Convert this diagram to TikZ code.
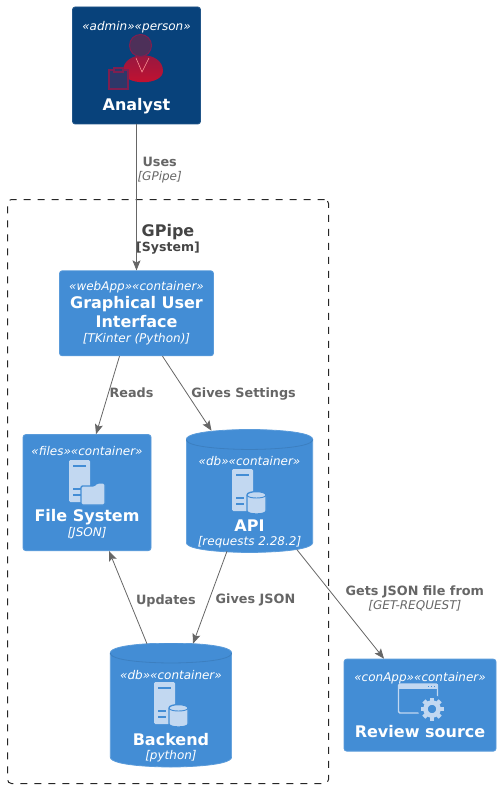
\documentclass[tikz,border=0pt]{standalone}
\usepackage{fontspec}
\setmainfont{DejaVu Sans}
\usetikzlibrary{calc, arrows.meta, positioning}

\definecolor{adminblue}{HTML}{08427B}
\definecolor{contblue}{HTML}{438DD5}
\definecolor{contline}{HTML}{3C7FC0}
\definecolor{iconblue}{HTML}{C2D8F1}
\definecolor{linegrey}{HTML}{666666}
\definecolor{titlegrey}{HTML}{444444}
\definecolor{bodytop}{HTML}{8E1A44}
\definecolor{bodyred}{HTML}{C8102E}
\definecolor{iconline}{HTML}{7E1F50}

\newcommand{\stereo}[1]{{\fontsize{9}{11}\selectfont\itshape #1}}
\newcommand{\boxtitle}[1]{{\fontsize{12}{13.5}\selectfont\bfseries #1}}
\newcommand{\tech}[1]{{\fontsize{9}{11}\selectfont\itshape #1}}
\newcommand{\ppbb}{path picture bounding box}

\tikzset{
    servericon/.pic={
        \fill[iconblue, rounded corners=1pt] (0,0) rectangle (21,42);
        \draw[contblue, line width=0.9pt] (4,6) -- (17,6);
        \draw[contblue, line width=0.9pt] (4,29) -- (12,29);
        \draw[contblue, line width=0.9pt] (4,35) -- (12,35);
    },
    dbicon/.pic={
        \draw[contblue, line width=1pt, fill=iconblue] (0,3) -- (0,19)
            .. controls (0,23) and (19,23) .. (19,19) -- (19,3)
            .. controls (19,-1.5) and (0,-1.5) .. (0,3) -- cycle;
        \draw[contblue, line width=0.7pt] (0,3) .. controls (0,7) and (19,7) .. (19,3);
    },
    foldericon/.pic={
        \draw[contblue, line width=1pt, fill=iconblue, rounded corners=1pt] (0,3) -- (13,3)
            -- (16,0) -- (24,0) -- (24,22) -- (0,22) -- cycle;
    },
    windowicon/.pic={
        \draw[iconblue, line width=1.1pt, rounded corners=1pt] (0,0) rectangle (39,29);
        \fill[iconblue] (0,0) rectangle (39,5);
        \foreach \dx in {29,32,35} {
            \fill[contblue] (\dx,1.5) rectangle ++(1.6,1.6);
        }
    },
    gearicon/.pic={
        \fill[contblue] (0,0) circle (14);
        \foreach \ang in {0,45,...,315} {
            \draw[iconblue, line width=3.2pt] (\ang:6) -- (\ang:11.5);
        }
        \draw[iconblue, line width=3.4pt] (0,0) circle (6.5);
    },
}

\begin{document}
\begin{tikzpicture}[
    x=0.75pt, y=-0.75pt,
    node distance=60pt,
    box/.style={
        rectangle, rounded corners=2pt, draw=contblue!88!white, fill=contblue,
        text=white, align=center, inner sep=0pt, line width=0.6pt,
        font=\fontsize{12}{13.5}\selectfont
    },
    adminbox/.style={
        box, draw=adminblue!90!white, fill=adminblue,
        minimum width=96pt, minimum height=87.75pt
    },
    dbbox/.style={
        rectangle, text=white, align=center, inner sep=0pt,
        font=\fontsize{12}{13.5}\selectfont,
        path picture={
            \draw[contblue!88!white, fill=contblue, line width=0.6pt]
                ($(\ppbb.north west)+(0.3,10)$) .. controls ($(\ppbb.north west)+(0.3,0)$) and (\ppbb.north) .. (\ppbb.north)
                .. controls (\ppbb.north) and ($(\ppbb.north east)+(-0.3,0)$) .. ($(\ppbb.north east)+(-0.3,10)$)
                -- ($(\ppbb.south east)+(-0.3,-10)$)
                .. controls ($(\ppbb.south east)+(-0.3,0)$) and (\ppbb.south) .. (\ppbb.south)
                .. controls (\ppbb.south) and ($(\ppbb.south west)+(0.3,0)$) .. ($(\ppbb.south west)+(0.3,-10)$)
                -- cycle;
            \draw[contline, line width=0.6pt]
                ($(\ppbb.north west)+(0.3,10)$) .. controls ($(\ppbb.north west)+(0.3,20)$) and ($(\ppbb.north)+(0,20)$) .. ($(\ppbb.north)+(0,20)$)
                .. controls ($(\ppbb.north)+(0,20)$) and ($(\ppbb.north east)+(-0.3,20)$) .. ($(\ppbb.north east)+(-0.3,10)$);
        }
    },
    boundary/.style={
        rectangle, rounded corners=3pt, draw=black!85,
        dash pattern=on 5.25pt off 5.25pt, line width=0.75pt, inner sep=0pt,
        minimum width=240.75pt, minimum height=438pt
    },
    grouptitle/.style={
        align=center, text=titlegrey, inner sep=0pt,
        font=\fontsize{12}{13.5}\selectfont
    },
    edgelabel/.style={
        align=center, text=linegrey, inner sep=0pt,
        font=\fontsize{9.6}{10.5}\selectfont
    },
    arr/.style={-{Stealth[length=7.5pt, width=6pt, inset=1.5pt]}, linegrey, line width=0.6pt},
]
\useasboundingbox (0,0) rectangle (501,788);

% System boundary
\node[boundary] (gpipe) at (168,491.5) {};
\node[grouptitle, below=18.5pt of gpipe.north] (gpipetitle)
    {\boxtitle{GPipe}\\[-2.2pt]{\fontsize{9.4}{11}\selectfont\bfseries [System]}};

% Person
\node[adminbox] (analyst) at (136.5,65.5)
    {\rule{0pt}{10pt}\stereo{«admin»«person»}\\[47pt]\boxtitle{Analyst}};

% Containers
\node[box, below=109.5pt of analyst, minimum width=115.5pt, minimum height=63.75pt] (gui)
    {\stereo{«webApp»«container»}\\[0pt]\boxtitle{Graphical User}\\[0.5pt]\boxtitle{Interface}\\[-2.5pt]\tech{[TKinter (Python)]}};

\node[box, below=58.5pt of gui.south, xshift=-37.1pt,
    minimum width=96pt, minimum height=87pt] (filesys)
    {\stereo{«files»«container»}\\[36pt]\boxtitle{File System}\\[-1.75pt]\tech{[JSON]}};

\node[dbbox, below=54.75pt of gui.south, xshift=84.75pt,
    minimum width=95.25pt, minimum height=92.25pt] (api)
    {\rule{0pt}{23.5pt}\stereo{«db»«container»}\\[36.6pt]\boxtitle{API}\\[-3pt]\tech{[requests 2.28.2]}};

\node[dbbox, below=67.5pt of api.south, xshift=-58.9pt,
    minimum width=91.5pt, minimum height=93pt] (backend)
    {\rule{0pt}{23.5pt}\stereo{«db»«container»}\\[36pt]\boxtitle{Backend}\\[-3pt]\tech{[python]}};

\node[box, below=79.5pt of api.south, xshift=127.9pt,
    minimum width=114pt, minimum height=69pt] (review)
    {\stereo{«conApp»«container»}\\[28pt]\boxtitle{Review source}};

% Analyst icon
\shade[top color=bodytop, bottom color=bodyred] (123,71) .. controls (123,50) and (163,50) .. (163,71)
    .. controls (163,86) and (123,86) .. (123,71) -- cycle;
\draw[white!60!red, line width=0.4pt] (136,58) -- (142,72) -- (149,58);
\draw[iconline, line width=0.8pt, fill=adminblue!72!red] (140.5,45.5) circle (11);
\draw[iconline, line width=0.8pt, fill=adminblue!85!red] (109,70) rectangle (128,89);
\draw[iconline, line width=0.8pt, fill=adminblue!85!red] (114,68) rectangle (123,72);

% Icons
\pic at (69,460) {servericon};
\pic at (81,483) {foldericon};
\pic at (232,469) {servericon};
\pic at (247,492) {dbicon};
\pic at (154,682) {servericon};
\pic at (169,705) {dbicon};
\pic at (398.5,684) {windowicon};
\pic at (432,709) {gearicon};

% Connectors
\draw[arr] (analyst.south) -- (gui.north)
    node[edgelabel, pos=0.31, right, xshift=0.5pt]
    {{\bfseries Uses}\\{\fontsize{9}{10.5}\selectfont\itshape [GPipe]}};
\draw[arr] ($(gui.south)+(-17,0)$) -- ($(filesys.north)+(9,0)$)
    node[edgelabel, midway, right, xshift=1pt, yshift=2pt] {\bfseries Reads};
\draw[arr] ($(gui.south)+(26,0)$) -- ($(api.north)+(-38,1.5)$)
    node[edgelabel, midway, right, xshift=3pt, yshift=-0.7pt] {\bfseries Gives Settings};
\draw[arr] ($(api.south)+(-22.5,-1.5)$) -- ($(backend.north)+(22,1)$)
    node[edgelabel, midway, right, xshift=4pt, yshift=-1.5pt] {\bfseries Gives JSON};
\draw[arr] ($(backend.north)+(-24,1)$) -- ($(filesys.south)+(22,0)$)
    node[edgelabel, midway, right, xshift=5.7pt, yshift=-3pt] {\bfseries Updates};
\draw[arr] ($(api.south)+(47.5,-3)$) -- ($(review.north)+(-36,0)$)
    node[edgelabel, midway, right, xshift=3.5pt, yshift=4pt]
    {{\bfseries Gets JSON file from}\\{\fontsize{9}{10.5}\selectfont\itshape [GET-REQUEST]}};
\end{tikzpicture}
\end{document}
